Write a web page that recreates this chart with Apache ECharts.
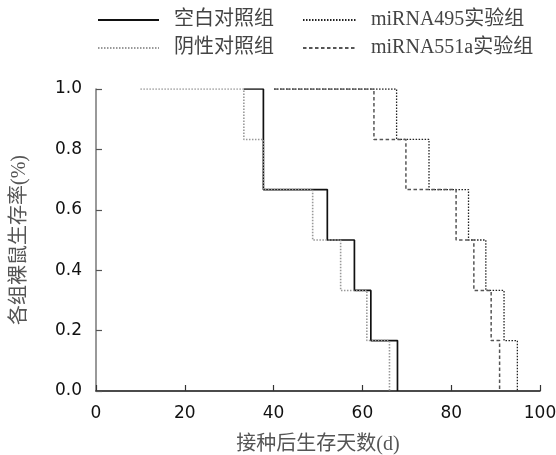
<!DOCTYPE html>
<html>
<head>
<meta charset="utf-8">
<script src="https://cdn.jsdelivr.net/npm/echarts@6/dist/echarts.min.js"></script>
<style>
  html, body { margin: 0; padding: 0; background: #fff; }
  #chart { width: 556px; height: 455px; }
</style>
</head>
<body>
<div id="chart"></div>
<script>
// Kaplan–Meier style survival steps: [day, surviving fraction]
const groupNames = ['空白对照组', '阴性对照组', 'miRNA495实验组', 'miRNA551a实验组'];
const blankControl = [[33.3, 1.0], [37.7, 0.667], [52.1, 0.5], [58.2, 0.333], [61.9, 0.167], [67.9, 0.0]];
const negativeControl = [[10.0, 1.0], [33.3, 0.833], [37.7, 0.667], [48.8, 0.5], [55.1, 0.333], [61.0, 0.167], [66.1, 0.0]];
const mirna495 = [[40.1, 1.0], [67.7, 0.833], [75.0, 0.667], [83.9, 0.5], [87.8, 0.333], [91.9, 0.167], [94.9, 0.0]];
const mirna551a = [[40.1, 1.0], [62.6, 0.833], [69.8, 0.667], [81.1, 0.5], [85.1, 0.333], [89.0, 0.167], [90.9, 0.0]];
const xTicks = [0, 20, 40, 60, 80, 100];
const yTicks = [0.0, 0.2, 0.4, 0.6, 0.8, 1.0];

const cjkFont = '"Liberation Serif", "Noto Sans CJK SC", serif';
const tickFont = '"DejaVu Sans", Verdana, sans-serif';

const styles = [
  { color: '#111', type: 'solid', width: 1.7 },
  { color: '#999', type: [1.5, 1.5], width: 1.6 },
  { color: '#222', type: [1.5, 1.5], width: 1.3 },
  { color: '#555', type: [3.5, 2.5], width: 1.5 }
];
const seriesData = [blankControl, negativeControl, mirna495, mirna551a];

// one legend per entry so each sits at its own spot
const legendPos = [
  { left: 97, top: 10 },
  { left: 97, top: 38 },
  { left: 302, top: 10 },
  { left: 302, top: 38 }
];
const legendWidths = [61, 61, 53, 53];

const chart = echarts.init(document.getElementById('chart'), null, { renderer: 'canvas' });
chart.setOption({
  animation: false,
  backgroundColor: '#fff',
  grid: { left: 96, right: 16, top: 89, bottom: 64, containLabel: false, outerBoundsMode: 'none' },
  legend: groupNames.map((name, i) => ({
    data: [name],
    left: legendPos[i].left,
    top: legendPos[i].top,
    padding: 0,
    itemWidth: legendWidths[i],
    itemHeight: 20,
    itemGap: 0,
    selectedMode: false,
    itemStyle: { opacity: 0 },
    textStyle: { fontFamily: cjkFont, fontSize: 20, color: '#444', padding: [0, 0, 0, 10] }
  })),
  xAxis: {
    type: 'value',
    min: xTicks[0],
    max: xTicks[xTicks.length - 1],
    interval: 20,
    name: '接种后生存天数(d)',
    nameLocation: 'middle',
    nameGap: 44,
    nameTextStyle: { fontFamily: cjkFont, fontSize: 20, color: '#555' },
    axisLine: { lineStyle: { color: '#111', width: 1.5 } },
    axisTick: { inside: true, length: 6, lineStyle: { color: '#333', width: 1.2 } },
    axisLabel: { fontFamily: tickFont, fontSize: 17, color: '#111', margin: 14 },
    splitLine: { show: false }
  },
  yAxis: {
    type: 'value',
    min: yTicks[0],
    max: yTicks[yTicks.length - 1],
    interval: 0.2,
    name: '各组裸鼠生存率(%)',
    nameLocation: 'middle',
    nameRotate: 90,
    nameGap: 66,
    nameTextStyle: { fontFamily: cjkFont, fontSize: 20, color: '#555' },
    axisLine: { show: true, lineStyle: { color: '#777', width: 1.5 } },
    axisTick: { show: true, inside: true, length: 6, lineStyle: { color: '#555', width: 1.2 } },
    axisLabel: { fontFamily: tickFont, fontSize: 17, color: '#111', margin: 14, formatter: v => v.toFixed(1) },
    splitLine: { show: false }
  },
  series: groupNames.map((name, i) => ({
    name: name,
    type: 'line',
    step: 'end',
    symbol: 'none',
    data: seriesData[i],
    itemStyle: { color: styles[i].color },
    lineStyle: { color: styles[i].color, type: styles[i].type, width: styles[i].width }
  }))
});
</script>
</body>
</html>
